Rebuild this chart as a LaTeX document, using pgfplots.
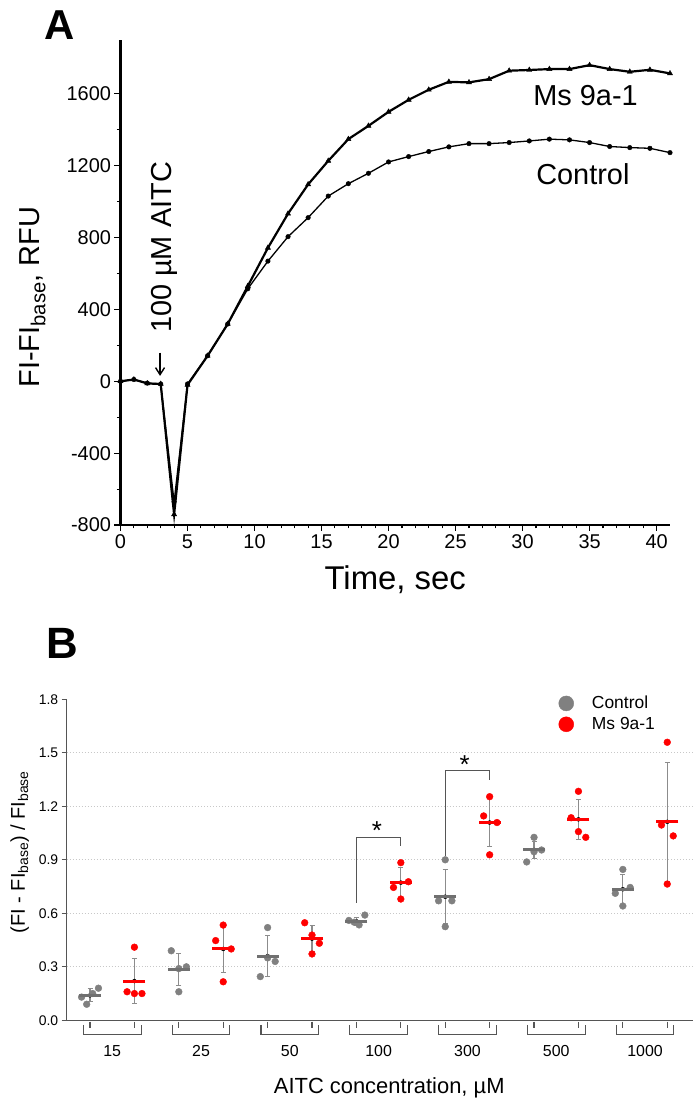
\documentclass[border=0pt]{standalone}
\usepackage{fontspec}
\setmainfont{Liberation Sans}
\usepackage{pgfplots}
\usepackage{pgfplotstable}
\pgfplotsset{compat=1.18}
\usetikzlibrary{arrows.meta}
\definecolor{ctrlgray}{RGB}{128,128,128}
\definecolor{meangray}{RGB}{112,112,112}
\definecolor{errgray}{RGB}{140,140,140}
\definecolor{msred}{RGB}{255,0,0}
\definecolor{brk}{RGB}{85,85,85}
\definecolor{gridc}{RGB}{200,200,200}
\newcommand{\fs}[1]{\fontsize{#1}{#1}\selectfont}

\pgfplotstableread{
t ctrl ms
0 0 0
1 10 10
2 -10 -12
3 -15 -15
4 -671 -741
5 -15 -20
6.5 142 142
8 319 319
9.5 515 530
11 669 743
12.5 805 933
14 911 1096
15.5 1031 1227
17 1100 1348
18.5 1158 1422
20 1221 1500
21.5 1251 1567
23 1279 1623
24.5 1305 1667
26 1323 1664
27.5 1323 1682
29 1329 1729
30.5 1338 1733
32 1348 1738
33.5 1344 1738
35 1329 1760
36.5 1307 1738
38 1301 1723
39.5 1297 1734
41 1273 1714
}\tracetable

\begin{document}
\begin{tikzpicture}
\path[use as bounding box] (0,0) rectangle (693bp,1100bp);
\node[font=\bfseries\fs{42}] at (60bp,1075bp) {A};
\node[font=\bfseries\fs{44}] at (62bp,457bp) {B};
% ---------------- Panel A ----------------
\begin{axis}[
  at={(120.5bp,575bp)}, anchor=south west, scale only axis,
  width=549.5bp, height=485bp,
  xmin=0, xmax=41, ymin=-800, ymax=1900,
  axis lines=left, axis line style={-, line width=2.4bp, black},
  xtick={0,5,...,40}, ytick={-800,-400,...,1600},
  minor x tick num=4, minor y tick num=1,
  tick align=outside, major tick length=6bp, minor tick length=3.5bp,
  every tick/.style={black, line width=1.1bp},
  tick label style={font=\fs{20}},
  /pgf/number format/assume math mode=true,
  /pgf/number format/1000 sep={},
  xlabel={Time, sec},
  xlabel style={font=\fs{33}, at={(axis description cs:0.5,-0.134)}, anchor=base},
  ylabel={FI-FI\textsubscript{base}, RFU},
  ylabel style={font=\fs{29}, at={(axis description cs:-0.148,0.47)}, anchor=base},
  clip=false,
]
\addplot[black, line width=1.3bp, mark=*, mark size=2.3bp, mark options={line width=0.4bp}] table[x=t, y=ctrl] {\tracetable};
\addplot[black, line width=2.2bp, mark=triangle*, mark size=3bp, mark options={line width=0.4bp}] table[x=t, y=ms] {\tracetable};
\node[font=\fs{29}] at (axis cs:34.7,1589) {Ms 9a-1};
\node[font=\fs{29}] at (axis cs:34.5,1152) {Control};
\node[font=\fs{29}, rotate=90, anchor=base] at (axis cs:3.82,745) {100 µM AITC};
\draw[-{Straight Barb[length=7bp,width=9bp]}, line width=1.4bp] (axis cs:2.95,160) -- (axis cs:2.95,30);
\end{axis}
% ---------------- Panel B ----------------
\begin{axis}[
  at={(66.7bp,79.7bp)}, anchor=south west, scale only axis,
  width=626.3bp, height=321bp,
  xmin=-0.525, xmax=13.58, ymin=0, ymax=1.8,
  axis lines=left, axis line style={-, draw=brk, line width=1.1bp},
  ytick={0,0.3,0.6,0.9,1.2,1.5,1.8},
  yticklabel style={/pgf/number format/.cd, fixed, fixed zerofill, precision=1},
  xtick={0.5,2.5,4.5,6.5,8.5,10.5,12.5},
  xticklabels={15,25,50,100,300,500,1000},
  x tick style={draw=none},
  y tick style={draw=brk, line width=1bp},
  tick align=outside, major tick length=5bp,
  tick label style={font=\fs{14}},
  x tick label style={font=\fs{16}, anchor=base, yshift=-31bp},
  /pgf/number format/assume math mode=true,
  xlabel={AITC concentration, µM},
  xlabel style={font=\fs{22}, at={(axis description cs:0.515,-0.2274)}, anchor=base},
  ylabel={(FI - FI\textsubscript{base}) / FI\textsubscript{base}},
  ylabel style={font=\fs{20}, at={(axis description cs:-0.0666,0.524)}, anchor=base},
  clip=false,
  legend image code/.code={\fill[#1] (0bp,0bp) circle (7.5bp);},
  legend style={at={(0.785,1.016)}, anchor=north west, draw=none, fill=none,
    font=\fs{17.5}, row sep=3bp, inner sep=0pt, column sep=16bp},
  legend cell align=left,
]
\addlegendimage{ctrlgray}
\addlegendentry{Control}
\addlegendimage{msred}
\addlegendentry{Ms 9a-1}
% grid lines
\pgfplotsinvokeforeach{0.3,0.6,0.9,1.2,1.5}{
  \draw[gridc, dotted, line width=1bp] (axis cs:-0.525,#1) -- (axis cs:13.58,#1);
}
% group brackets under the axis
\pgfplotsinvokeforeach{0,1,2,3,4,5,6,7,8,9,10,11,12,13}{
  \draw[brk, line width=1.1bp] (axis cs:#1,-0.007) -- (axis cs:#1,-0.041);
}
\draw[brk, line width=1.1bp] (axis cs:-0.15,-0.026) -- (axis cs:-0.15,-0.0785) -- (axis cs:1.15,-0.0785) -- (axis cs:1.15,-0.026);
\draw[brk, line width=1.1bp] (axis cs:1.85,-0.026) -- (axis cs:1.85,-0.0785) -- (axis cs:3.15,-0.0785) -- (axis cs:3.15,-0.026);
\draw[brk, line width=1.1bp] (axis cs:3.85,-0.026) -- (axis cs:3.85,-0.0785) -- (axis cs:5.15,-0.0785) -- (axis cs:5.15,-0.026);
\draw[brk, line width=1.1bp] (axis cs:5.85,-0.026) -- (axis cs:5.85,-0.0785) -- (axis cs:7.15,-0.0785) -- (axis cs:7.15,-0.026);
\draw[brk, line width=1.1bp] (axis cs:7.85,-0.026) -- (axis cs:7.85,-0.0785) -- (axis cs:9.15,-0.0785) -- (axis cs:9.15,-0.026);
\draw[brk, line width=1.1bp] (axis cs:9.85,-0.026) -- (axis cs:9.85,-0.0785) -- (axis cs:11.15,-0.0785) -- (axis cs:11.15,-0.026);
\draw[brk, line width=1.1bp] (axis cs:11.85,-0.026) -- (axis cs:11.85,-0.0785) -- (axis cs:13.15,-0.0785) -- (axis cs:13.15,-0.026);
% error bars (mean +- SD)
\addplot[forget plot, only marks, mark=none,
  error bars/.cd, y dir=both, y explicit,
  error bar style={draw=errgray, line width=1.1bp},
  error mark options={draw=errgray, rotate=90, mark size=2.5bp, line width=1bp}]
coordinates {
(0,0.14) +- (0,0.036)
(2,0.286) +- (0,0.09)
(4,0.36) +- (0,0.117)
(6,0.555) +- (0,0.023)
(8,0.693) +- (0,0.153)
(10,0.955) +- (0,0.045)
(12,0.735) +- (0,0.083)
(1,0.22) +- (0,0.128)
(3,0.40) +- (0,0.132)
(5,0.458) +- (0,0.073)
(7,0.772) +- (0,0.085)
(9,1.109) +- (0,0.133)
(11,1.127) +- (0,0.113)
(13,1.113) +- (0,0.332)
};
% individual points
\addplot[forget plot, only marks, mark=*, mark size=3.4bp, color=ctrlgray] coordinates {
(-0.19,0.13) (-0.075,0.09) (0.06,0.15) (0.19,0.18)
(1.83,0.39) (2,0.29) (2.17,0.30) (2,0.16)
(4,0.52) (4,0.35) (4.17,0.33) (3.835,0.245)
(5.83,0.56) (5.95,0.55) (6.06,0.535) (6.19,0.59)
(8,0.90) (7.85,0.67) (8.15,0.67) (8,0.525)
(10,1.026) (9.835,0.888) (10.17,0.955) (10,0.945)
(12,0.846) (11.83,0.712) (12.165,0.745) (12,0.641)
};
\addplot[forget plot, only marks, mark=*, mark size=3.4bp, color=msred] coordinates {
(1,0.41) (0.835,0.16) (1,0.15) (1.17,0.15)
(3,0.534) (2.83,0.447) (3.18,0.40) (3,0.216)
(4.835,0.547) (5,0.478) (5.165,0.432) (5,0.372)
(7,0.884) (6.835,0.745) (7.17,0.777) (7,0.68)
(9,1.254) (8.865,1.146) (9.165,1.109) (9,0.928)
(11,1.284) (10.835,1.136) (11,1.058) (11.165,1.026)
(13,1.559) (12.87,1.095) (13.135,1.034) (13,0.764)
};
% means
\addplot[forget plot, only marks, mark=-, mark size=11bp, mark options={line width=3bp, draw=meangray}] coordinates {
(0,0.14) (2,0.286) (4,0.36) (6,0.555) (8,0.693) (10,0.955) (12,0.735)
};
\addplot[forget plot, only marks, mark=-, mark size=11bp, mark options={line width=3bp, draw=msred}] coordinates {
(1,0.22) (3,0.40) (5,0.458) (7,0.772) (9,1.109) (11,1.127) (13,1.113)
};
% significance brackets
\draw[brk, line width=1.3bp] (axis cs:6,0.66) -- (axis cs:6,1.026) -- (axis cs:7,1.026) -- (axis cs:7,0.98);
\node[font=\fs{26}, anchor=base] at (axis cs:6.46,1.012) {*};
\draw[brk, line width=1.3bp] (axis cs:8,0.92) -- (axis cs:8,1.40) -- (axis cs:9,1.40) -- (axis cs:9,1.35);
\node[font=\fs{26}, anchor=base] at (axis cs:8.44,1.386) {*};
\end{axis}
\end{tikzpicture}
\end{document}
